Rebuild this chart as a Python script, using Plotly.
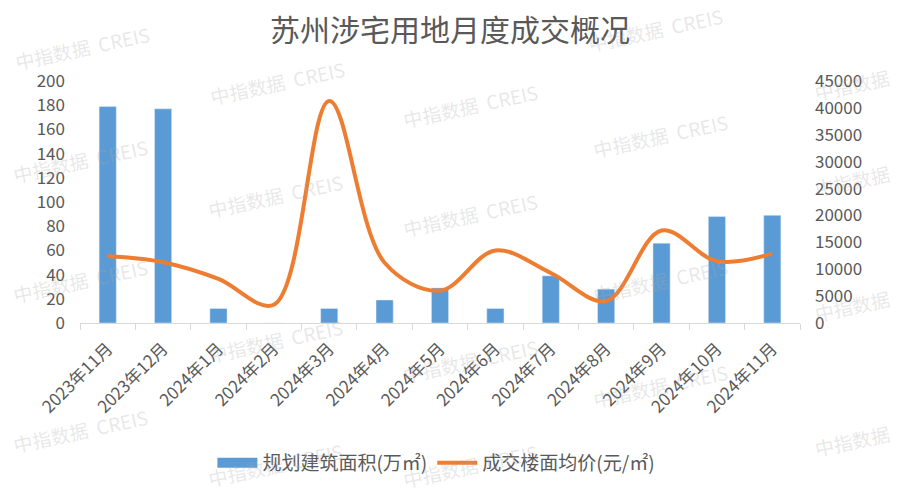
import plotly.graph_objects as go

months = ["2023年11月", "2023年12月", "2024年1月", "2024年2月", "2024年3月", "2024年4月",
          "2024年5月", "2024年6月", "2024年7月", "2024年8月", "2024年9月", "2024年10月", "2024年11月"]
area = [179, 177, 12, 0, 12, 19, 29, 12, 39, 28, 66, 88, 89]
price = [12450, 11300, 8200, 3400, 41300, 11200, 6000, 13500, 9300, 4100, 17200, 11500, 12900]

bar_name = "规划建筑面积(万㎡)"
line_name = "成交楼面均价(元/㎡)"
title_text = "苏州涉宅用地月度成交概况"
wm_text = "中指数据  CREIS"
wm_short = "中指数据"

FONT = "Noto Sans CJK SC"
GREY = "#595959"
BLUE = "#5b9bd5"
ORANGE = "#ed7d31"

fig = go.Figure()
fig.add_trace(go.Bar(x=months, y=area, name=bar_name, marker_color=BLUE, yaxis="y",
                     showlegend=False, legendgroup="bar"))
# legend entry drawn as a wide block, like the reference
fig.add_trace(go.Scatter(x=[None], y=[None], mode="lines", name=bar_name, legendgroup="bar",
                         line=dict(color=BLUE, width=13)))
fig.add_trace(go.Scatter(x=months, y=price, name=line_name, mode="lines", yaxis="y2",
                         line=dict(color=ORANGE, width=4, shape="spline", smoothing=1.0)))

L, R, T, B = 80, 100, 81, 172
W, H = 900, 495
pw, ph = W - L - R, H - T - B

# watermark tiles (pixel centres, text)
wm_pos = [(82, 48, wm_text), (277, 82, wm_text), (655, 29, wm_text), (852, 85, wm_short),
          (470, 105, wm_text), (660, 135, wm_text), (80, 160, wm_text), (275, 195, wm_text),
          (852, 180, wm_short), (470, 215, wm_text), (80, 280, wm_text), (660, 280, wm_text),
          (852, 305, wm_short), (275, 340, wm_text), (470, 360, wm_text), (660, 385, wm_text),
          (80, 430, wm_text), (275, 464, wm_text), (852, 440, wm_short), (470, 465, wm_text)]
annotations = []
for px, py, txt in wm_pos:
    annotations.append(dict(x=(px - L) / pw, y=(T + ph - py) / ph, xref="paper", yref="paper",
                            xanchor="center", yanchor="middle",
                            text=txt, showarrow=False, textangle=-12,
                            font=dict(family=FONT, size=19, color="rgba(170,170,170,0.28)")))

fig.update_layout(
    width=W, height=H,
    margin=dict(l=L, r=R, t=T, b=B),
    paper_bgcolor="white", plot_bgcolor="white",
    font=dict(family=FONT, color=GREY, size=17),
    title=dict(text=title_text, x=0.5, xanchor="center", y=1 - 30 / H, yanchor="middle",
               font=dict(family=FONT, size=30, color=GREY)),
    bargap=0.69,
    showlegend=True,
    legend=dict(orientation="h", x=0.495, xanchor="center", y=(T + ph - 463) / ph, yanchor="middle",
                font=dict(size=19, color=GREY), itemwidth=40),
    xaxis=dict(type="category", tickangle=-45, showline=True, linecolor="#d9d9d9", linewidth=1,
               ticks="outside", tickson="boundaries", ticklen=6, tickcolor="#d9d9d9",
               tickfont=dict(size=17, color=GREY), showgrid=False, ticklabelstandoff=8),
    yaxis=dict(range=[0, 200], dtick=20, showgrid=False, zeroline=False, showline=False,
               tickfont=dict(size=17, color=GREY), ticklabelstandoff=14),
    yaxis2=dict(range=[0, 45000], dtick=5000, overlaying="y", side="right", showgrid=False,
                zeroline=False, showline=False, tickfont=dict(size=17, color=GREY),
                tickformat="d", ticklabelstandoff=14),
    annotations=annotations,
)

fig.write_html("out.html")
